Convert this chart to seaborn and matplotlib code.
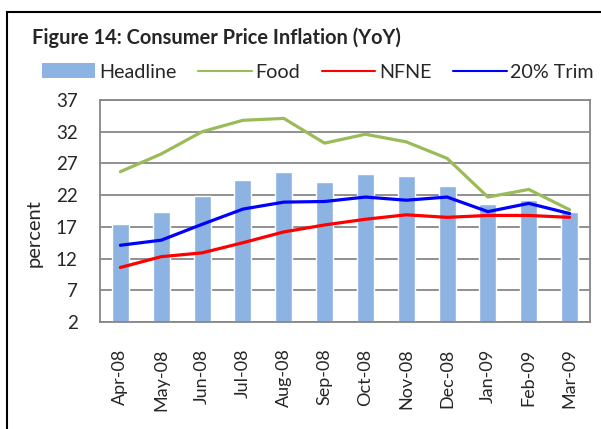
import numpy as np
import pandas as pd
import seaborn as sns
import matplotlib.pyplot as plt
from matplotlib.patches import Patch, Rectangle
from matplotlib.lines import Line2D

months = ["Apr-08", "May-08", "Jun-08", "Jul-08", "Aug-08", "Sep-08",
          "Oct-08", "Nov-08", "Dec-08", "Jan-09", "Feb-09", "Mar-09"]
headline = [17.5, 19.3, 21.9, 24.4, 25.6, 24.0, 25.3, 25.0, 23.4, 20.6, 21.2, 19.3]
food = [25.7, 28.5, 32.0, 33.8, 34.1, 30.2, 31.6, 30.4, 27.8, 21.7, 22.9, 19.7]
nfne = [10.6, 12.3, 12.9, 14.5, 16.2, 17.3, 18.2, 18.9, 18.5, 18.8, 18.8, 18.5]
trim = [14.1, 14.9, 17.4, 19.8, 20.9, 21.0, 21.7, 21.2, 21.7, 19.4, 20.7, 19.1]
yticks = [2, 7, 12, 17, 22, 27, 32, 37]

df = pd.DataFrame({"Month": months, "pos": range(len(months)),
                   "Headline": headline, "Food": food, "NFNE": nfne, "Trim": trim})

sns.set_style("white")
plt.rcParams["font.family"] = ["Lato", "DejaVu Sans"]

bar_c = "#8db3e2"
food_c = "#9bbb59"
grid_c = "#878787"

fig = plt.figure(figsize=(6.01, 4.29), dpi=100)
ax = fig.add_axes([100 / 601, 1 - 322 / 429, 490 / 601, 222 / 429])

sns.barplot(x="pos", y="Headline", data=df, color=bar_c, width=0.42,
            saturation=1, ax=ax, zorder=2, native_scale=True)
sns.lineplot(x="pos", y="Food", data=df, color=food_c, lw=2.3, ax=ax, zorder=3)
sns.lineplot(x="pos", y="NFNE", data=df, color="#ff0000", lw=2.3, ax=ax, zorder=3)
sns.lineplot(x="pos", y="Trim", data=df, color="#0000ff", lw=2.3, ax=ax, zorder=4)

ax.set_xlim(-0.5, len(months) - 0.5)
ax.set_ylim(2, 37)
ax.set_yticks(yticks)
ax.set_yticklabels([str(t) for t in yticks], fontsize=13.5)
ax.set_xticks(df["pos"])
ax.set_xticklabels(months, rotation=90, fontsize=13)
ax.set_xticks(np.arange(-0.5, len(months), 1), minor=True)
ax.tick_params(axis="x", which="major", length=0, pad=19)
ax.tick_params(axis="x", which="minor", length=5, width=1.2, color=grid_c, direction="out")
ax.tick_params(axis="y", length=0, pad=16)
ax.yaxis.grid(True, color=grid_c, lw=1.3, zorder=0)
ax.set_axisbelow(True)
for s in ax.spines.values():
    s.set_color(grid_c)
    s.set_linewidth(1.3)
ax.set_xlabel("")
ax.set_ylabel("")
fig.text(34 / 601, 1 - 233 / 429, "percent", rotation=90, fontsize=14.5,
         ha="center", va="center")

fig.text(32 / 601, 1 - 38 / 429, "Figure 14: Consumer Price Inflation (YoY)",
         fontsize=14.4, fontweight="bold", ha="left", va="center")

handles = [Patch(facecolor=bar_c, edgecolor="none"),
           Line2D([], [], color=food_c, lw=1.5),
           Line2D([], [], color="#ff0000", lw=1.5),
           Line2D([], [], color="#0000ff", lw=1.5)]
fig.legend(handles, ["Headline", "Food", "NFNE", "20% Trim"], ncol=4,
           loc="center left", bbox_to_anchor=(42 / 601, 1 - 72 / 429),
           frameon=False, fontsize=14.2, handlelength=2.7, handleheight=0.78,
           handletextpad=0.2, columnspacing=1.1, borderpad=0, borderaxespad=0)

fig.patches.append(Rectangle((7 / 601, -0.1), 1.2, 1 - 12 / 429 + 0.1,
                             transform=fig.transFigure, fill=False,
                             edgecolor="black", lw=1.5))

fig.savefig("out.png", dpi=100)
